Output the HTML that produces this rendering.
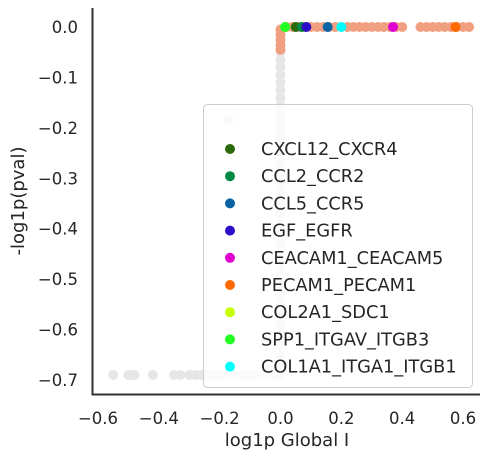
<!DOCTYPE html>
<html><head><meta charset="utf-8"><style>
body{margin:0;background:#fff;font-family:"Liberation Sans","DejaVu Sans",sans-serif;}
svg text{font-family:"DejaVu Sans","Liberation Sans",sans-serif;fill:#262626;}
</style></head><body>
<svg id="chart" width="489" height="460"></svg>
<script>
const grayX=[-0.55,-0.5,-0.49,-0.48,-0.42,-0.35,-0.33,-0.3,-0.28,-0.26,-0.24,-0.22,-0.2,-0.18,-0.15,-0.12,-0.1,-0.08,-0.05,-0.02,0,-0.17,0,0,0,0,0,0,0,0,0,0,0,0,0,0,0,0,0,0,0,0,0,0,0,0,0,0,0,0,0,0,0,0,0,0,0,0];
const grayY=[-0.69,-0.69,-0.69,-0.69,-0.69,-0.69,-0.69,-0.69,-0.69,-0.69,-0.69,-0.69,-0.69,-0.69,-0.69,-0.69,-0.69,-0.69,-0.69,-0.69,-0.69,-0.185,-0.05,-0.065,-0.08,-0.095,-0.11,-0.125,-0.14,-0.155,-0.17,-0.185,-0.2,-0.215,-0.23,-0.25,-0.27,-0.29,-0.31,-0.33,-0.35,-0.37,-0.39,-0.41,-0.43,-0.45,-0.47,-0.49,-0.51,-0.53,-0.55,-0.57,-0.59,-0.61,-0.63,-0.65,-0.67,-0.69];
const orangeX=[0,0,0,0,0,0.02,0.04,0.06,0.08,0.1,0.12,0.14,0.16,0.18,0.2,0.22,0.24,0.26,0.28,0.3,0.32,0.34,0.36,0.38,0.4,0.46,0.48,0.5,0.52,0.54,0.56,0.58,0.6,0.62];
const orangeY=[-0.005,-0.015,-0.025,-0.035,-0.045,0,0,0,0,0,0,0,0,0,0,0,0,0,0,0,0,0,0,0,0,0,0,0,0,0,0,0,0,0];
const names=["CXCL12_CXCR4","CCL2_CCR2","CCL5_CCR5","EGF_EGFR","CEACAM1_CEACAM5","PECAM1_PECAM1","COL2A1_SDC1","SPP1_ITGAV_ITGB3","COL1A1_ITGA1_ITGB1"];
const colors=["#2a6a0a","#008b45","#0a64a4","#2e0fc8","#e100d2","#ff6a00","#c8ff00","#22ff22","#00ffff"];
const hx=[0.05,0.07,0.155,0.085,0.37,0.575,0.075,0.015,0.2];
const hy=[0,0,0,0,0,0,0,0,0];
const drawOrder=[6,0,1,3,2,4,5,7,8];
const xTicks=[-0.6,-0.4,-0.2,0.0,0.2,0.4,0.6];
const yTicks=[0.0,-0.1,-0.2,-0.3,-0.4,-0.5,-0.6,-0.7];
const NS="http://www.w3.org/2000/svg";
const svg=document.getElementById('chart');
const sx=v=>280.5+v*304.2;
const sy=v=>27-v*504.3;
function mk(t,a,p){const e=document.createElementNS(NS,t);for(const k in a)e.setAttribute(k,a[k]);(p||svg).appendChild(e);return e;}
let e=mk('line',{x1:92.5,y1:8,x2:92.5,y2:394.5,stroke:'#333','stroke-width':2});


e=mk('line',{x1:91.5,y1:394.5,x2:480,y2:394.5,stroke:'#333','stroke-width':2});


xTicks.forEach(t=>{const el=mk('text',{x:sx(t),y:424,'text-anchor':'middle','font-size':16.5});el.textContent=(t<0?'\u2212':'')+Math.abs(t).toFixed(1);

});
yTicks.forEach(t=>{const el=mk('text',{x:78,y:sy(t)+6,'text-anchor':'end','font-size':16.5});el.textContent=(t<0?'\u2212':'')+Math.abs(t).toFixed(1);

});
e=mk('text',{x:287,y:446,'text-anchor':'middle','font-size':18});e.textContent='log1p Global I';


e=mk('text',{x:0,y:0,'text-anchor':'middle','font-size':18,transform:'translate(24,201) rotate(-90)'});e.textContent='-log1p(pval)';


grayX.forEach((v,i)=>{const c=mk('circle',{cx:sx(v),cy:sy(grayY[i]),r:5,fill:'#e6e6e6'});

});
orangeX.forEach((v,i)=>{const c=mk('circle',{cx:sx(v),cy:sy(orangeY[i]),r:5,fill:'#f0a080'});

});
drawOrder.forEach(i=>{const c=mk('circle',{cx:sx(hx[i]),cy:sy(hy[i]),r:5,fill:colors[i]});

});
e=mk('rect',{x:203.5,y:104.5,width:269,height:283,rx:4,fill:'rgba(255,255,255,0.8)',stroke:'#ccc'});


names.forEach((n,i)=>{const y=149+i*27.2;
const c=mk('circle',{cx:230,cy:y,r:5,fill:colors[i]});


const t=mk('text',{x:261,y:y+6,'font-size':17.8});t.textContent=n;

});
</script>
</body></html>
